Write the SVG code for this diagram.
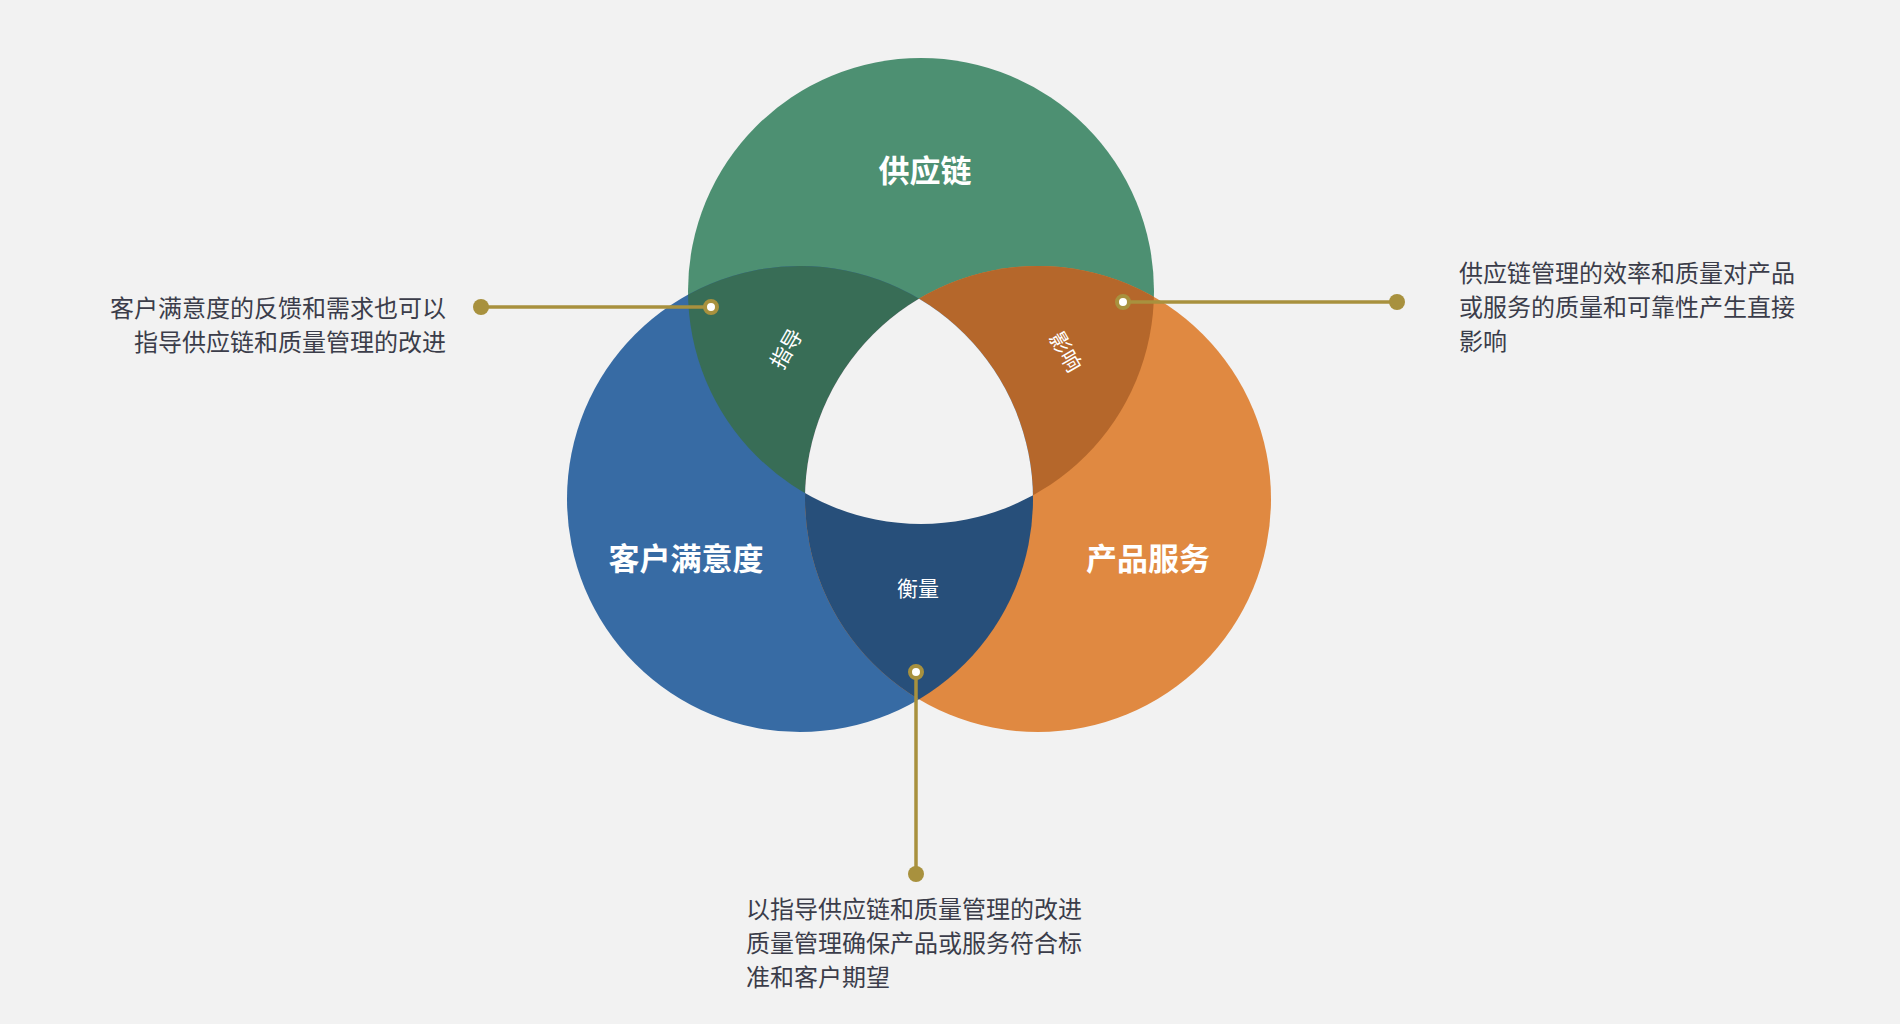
<svg xmlns="http://www.w3.org/2000/svg" width="1900" height="1024" viewBox="0 0 1900 1024">
<defs>
<style>
text{font-family:"Noto Sans CJK SC","Liberation Sans",sans-serif}
.big{fill:#fff;font-size:31px;font-weight:bold;text-anchor:middle}
.sm{fill:#fff;font-size:21px;text-anchor:middle}
.desc{fill:#3b3d4a;font-size:24px}
.ln{stroke:#a8913e;stroke-width:3.5;fill:none}
.dot{fill:#a8913e}
.ring{fill:#fff;stroke:#a8913e;stroke-width:4}
</style>
<clipPath id="cG"><circle cx="921" cy="291" r="233"/></clipPath>
<clipPath id="cB"><circle cx="800" cy="499" r="233"/></clipPath>
<clipPath id="cO"><circle cx="1038" cy="499" r="233"/></clipPath>
</defs>
<rect width="1900" height="1024" fill="#f2f2f2"/>
<g id="circles">
<circle cx="921" cy="291" r="233" fill="#4d9072"/>
<circle cx="800" cy="499" r="233" fill="#376ba4"/>
<circle cx="1038" cy="499" r="233" fill="#e08941"/>
<g clip-path="url(#cG)"><circle cx="800" cy="499" r="233" fill="#386d56"/><circle cx="1038" cy="499" r="233" fill="#b5672b"/></g>
<g clip-path="url(#cB)"><circle cx="1038" cy="499" r="233" fill="#274f7a"/></g>
<g clip-path="url(#cG)"><g clip-path="url(#cB)"><circle cx="1038" cy="499" r="233" fill="#f2f2f2"/></g></g>
</g>
<g id="labels">
<text class="big" x="925" y="182">供应链</text>
<text class="big" x="686" y="570">客户满意度</text>
<text class="big" x="1148" y="570">产品服务</text>
<text class="sm" x="918" y="596">衡量</text>
<text class="sm" transform="translate(787,349) rotate(-60)" y="7">指导</text>
<text class="sm" transform="translate(1065,352) rotate(60)" y="7">影响</text>
</g>
<g id="connectors">
<line class="ln" x1="481" y1="307" x2="711" y2="307"/>
<circle class="dot" cx="481" cy="307" r="8"/>
<circle class="ring" cx="711" cy="307" r="6"/>
<line class="ln" x1="1123" y1="302" x2="1397" y2="302"/>
<circle class="dot" cx="1397" cy="302" r="8"/>
<circle class="ring" cx="1123" cy="302" r="6"/>
<line class="ln" x1="916" y1="672" x2="916" y2="874"/>
<circle class="dot" cx="916" cy="874" r="8"/>
<circle class="ring" cx="916" cy="672" r="6"/>
</g>
<g id="descriptions">
<text class="desc" x="446" y="317" text-anchor="end">客户满意度的反馈和需求也可以</text>
<text class="desc" x="446" y="351" text-anchor="end">指导供应链和质量管理的改进</text>
<text class="desc" x="1459" y="282">供应链管理的效率和质量对产品</text>
<text class="desc" x="1459" y="316">或服务的质量和可靠性产生直接</text>
<text class="desc" x="1459" y="350">影响</text>
<text class="desc" x="746" y="918">以指导供应链和质量管理的改进</text>
<text class="desc" x="746" y="952">质量管理确保产品或服务符合标</text>
<text class="desc" x="746" y="986">准和客户期望</text>
</g>
</svg>
